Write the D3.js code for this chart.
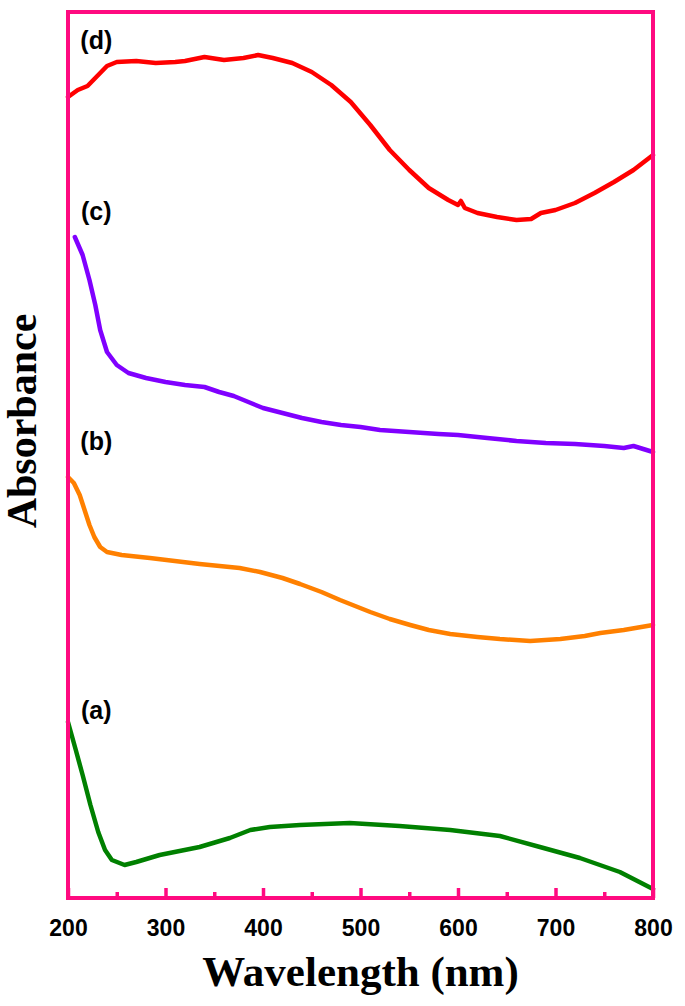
<!DOCTYPE html>
<html><head><meta charset="utf-8">
<script src="https://cdn.jsdelivr.net/npm/d3@7/dist/d3.min.js"></script>
<style>body{margin:0;background:#fff}svg{display:block}</style>
</head><body>
<svg id="c" width="685" height="1006"></svg>
<script>
// Wavelength (nm) / absorbance (a.u., offset traces)
const wlD = [200,210,220,230,240,250,270,290,310,320,340,360,380,395,410,430,450,470,490,510,530,550,570,590,600,603,607,620,640,660,675,685,700,720,740,760,780,800];
const absD = [8.01,8.08,8.12,8.22,8.32,8.36,8.37,8.35,8.36,8.37,8.41,8.38,8.40,8.43,8.40,8.35,8.26,8.13,7.96,7.73,7.48,7.28,7.10,6.98,6.93,6.97,6.90,6.85,6.81,6.78,6.79,6.85,6.88,6.95,7.05,7.16,7.28,7.43];
const wlC = [207,215,222,228,233,240,250,262,280,300,320,340,355,370,385,400,420,440,460,480,500,520,550,580,600,630,660,690,720,750,770,780,790,800];
const absC = [6.61,6.43,6.18,5.93,5.68,5.46,5.33,5.25,5.20,5.16,5.13,5.11,5.06,5.02,4.96,4.90,4.85,4.80,4.76,4.73,4.71,4.68,4.66,4.64,4.63,4.60,4.57,4.55,4.54,4.52,4.50,4.52,4.49,4.46];
const wlB = [200,206,212,217,222,227,233,240,255,284,335,376,397,420,438,460,479,510,530,551,570,592,620,643,674,705,730,746,770,800];
const absB = [4.21,4.15,4.03,3.88,3.73,3.61,3.51,3.46,3.43,3.40,3.34,3.30,3.26,3.20,3.14,3.06,2.98,2.86,2.79,2.73,2.68,2.64,2.61,2.59,2.57,2.59,2.62,2.65,2.68,2.73];
const wlA = [200,208,215,223,231,238,245,258,270,294,335,366,387,407,438,489,540,592,643,684,725,766,800];
const absA = [1.76,1.48,1.23,0.93,0.66,0.48,0.38,0.33,0.36,0.43,0.51,0.60,0.68,0.71,0.73,0.75,0.72,0.68,0.62,0.51,0.40,0.26,0.09];
const seriesNames = ["(a)","(b)","(c)","(d)"];
const seriesColors = ["#008000","#ff8000","#8000ff","#ff0000"];
const xTicks = [200,300,400,500,600,700,800];
const xMinor = [250,350,450,550,650,750];

const svg = d3.select("#c");
const L=68, R=653, T=12, B=898;
const x = d3.scaleLinear().domain([200,800]).range([L,R]);
const y = d3.scaleLinear().domain([0,8.86]).range([B,T]);
const pink = "#ff0a80";

const series = [
  {wl:wlA, a:absA}, {wl:wlB, a:absB}, {wl:wlC, a:absC}, {wl:wlD, a:absD}
];
const line = d3.line().x(d=>x(d[0])).y(d=>y(d[1]));
series.forEach((s,i)=>{
  const pts = s.wl.map((w,j)=>[w,s.a[j]]);
  svg.append("path").attr("d",line(pts)).attr("fill","none")
    .attr("stroke",seriesColors[i]).attr("stroke-width",4.5)
    .attr("stroke-linejoin","round").attr("stroke-linecap","round");
});

// axis with inward ticks
const gx = svg.append("g").attr("transform",`translate(0,${B})`);
gx.call(d3.axisBottom(x).tickValues(xTicks).tickSize(-10).tickPadding(22).tickFormat(d3.format("d")));
gx.select(".domain").remove();
gx.selectAll(".tick line").attr("stroke",pink).attr("stroke-width",3.5);
gx.selectAll(".tick text").attr("font-family","Liberation Sans, Arial, sans-serif")
  .attr("font-weight","bold").attr("font-size",23).attr("fill","#000");
const gm = svg.append("g").attr("transform",`translate(0,${B})`);
gm.call(d3.axisBottom(x).tickValues(xMinor).tickSize(-6).tickFormat(""));
gm.select(".domain").remove();
gm.selectAll(".tick line").attr("stroke",pink).attr("stroke-width",3.5);

svg.append("rect").attr("x",L).attr("y",T).attr("width",R-L).attr("height",B-T)
  .attr("fill","none").attr("stroke",pink).attr("stroke-width",4);

// curve labels
const labData = [["(a)",710],["(b)",441],["(c)",211],["(d)",40]];
labData.forEach((d,i)=>{
  svg.append("text").attr("x",x(229)).attr("y",d[1]).attr("dy","0.35em")
    .attr("text-anchor","middle").attr("font-family","Liberation Sans, Arial, sans-serif")
    .attr("font-weight","bold").attr("font-size",25).text(seriesNames[i]);
});

svg.append("text").attr("x",(L+R)/2).attr("y",986).attr("text-anchor","middle")
  .attr("font-family","Liberation Serif, Times New Roman, serif").attr("font-weight","bold")
  .attr("font-size",43).text("Wavelength (nm)");
svg.append("text").attr("transform",`translate(36,421) rotate(-90)`).attr("text-anchor","middle")
  .attr("font-family","Liberation Serif, Times New Roman, serif").attr("font-weight","bold")
  .attr("font-size",42).text("Absorbance");
</script>
</body></html>
